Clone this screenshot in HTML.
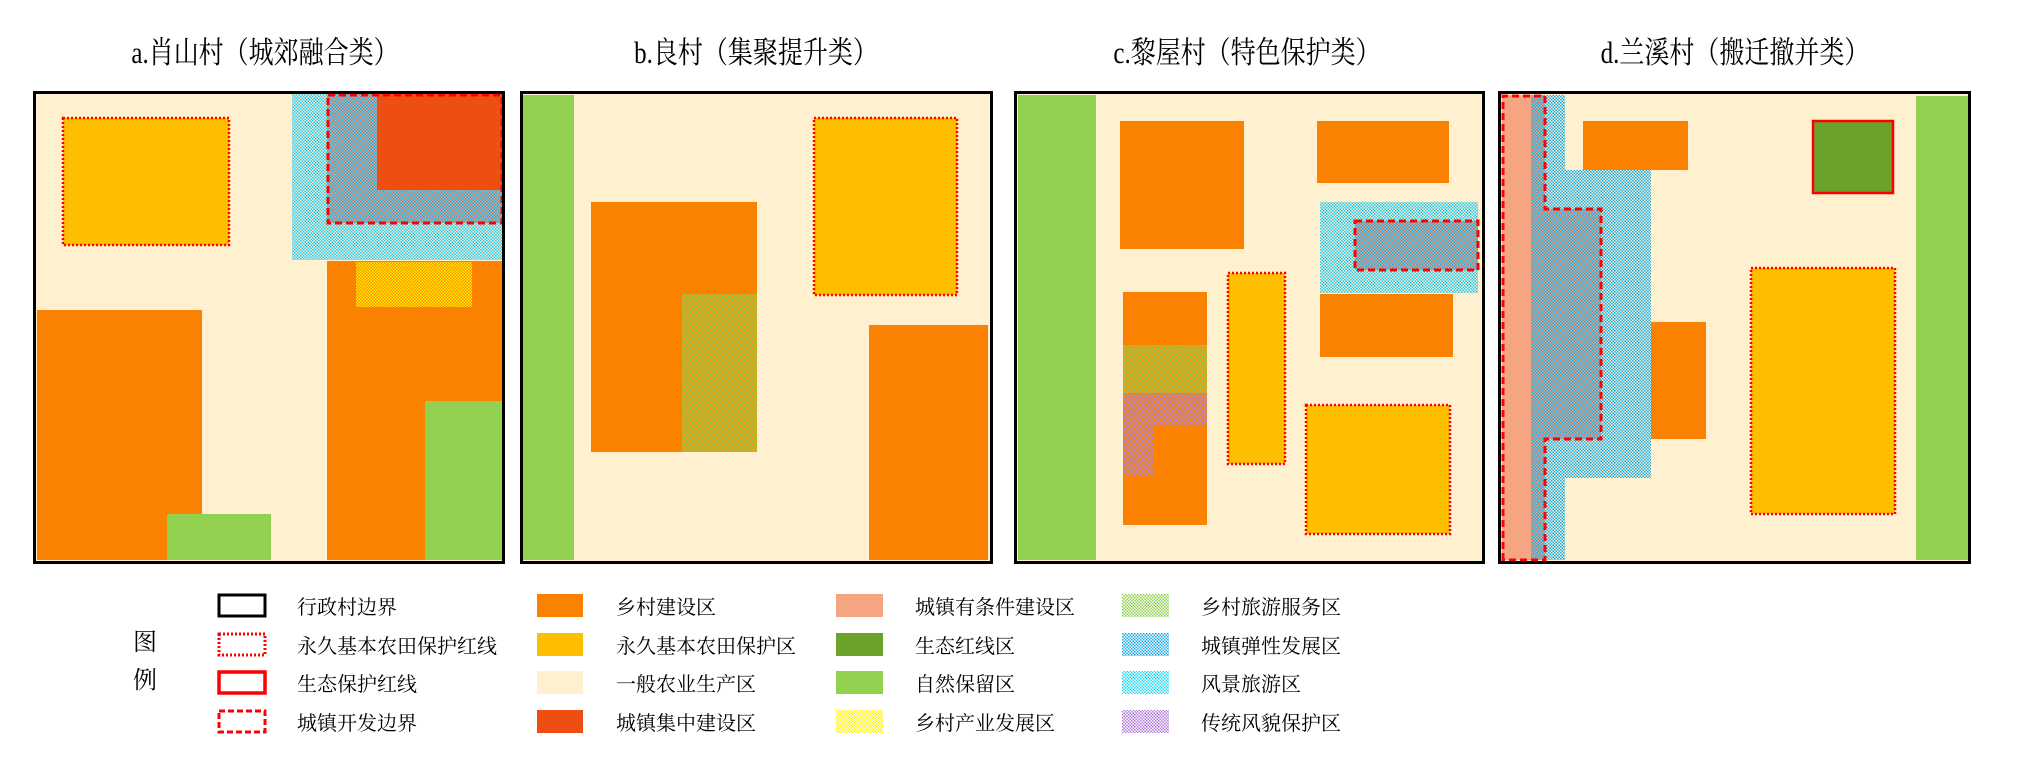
<!DOCTYPE html>
<html><head><meta charset="utf-8"><style>
html,body{margin:0;padding:0;background:#fff;width:2026px;height:778px;overflow:hidden}
svg{display:block}
text{font-family:"Liberation Serif","Noto Serif CJK SC",serif;fill:#000}
</style></head><body>
<svg width="2026" height="778" viewBox="0 0 2026 778" xmlns="http://www.w3.org/2000/svg">
<defs>
<pattern id="blue" width="3" height="3" patternUnits="userSpaceOnUse"><rect width="3" height="3" fill="#fff0cf"/><rect x="0" y="0" width="1.5" height="1.5" fill="#1aaee8"/><rect x="1.5" y="1.5" width="1.5" height="1.5" fill="#1aaee8"/></pattern>
<pattern id="cyan" width="3" height="3" patternUnits="userSpaceOnUse"><rect width="3" height="3" fill="#fff0cf"/><rect x="0" y="0" width="1.5" height="1.5" fill="#22c8ee"/><rect x="1.5" y="1.5" width="1.5" height="1.5" fill="#22c8ee"/></pattern>
<pattern id="gray" width="3" height="3" patternUnits="userSpaceOnUse"><rect width="3" height="3" fill="#f4a07c"/><rect x="0" y="0" width="1.5" height="1.5" fill="#1aaee8"/><rect x="1.5" y="1.5" width="1.5" height="1.5" fill="#1aaee8"/></pattern>
<pattern id="yel" width="3" height="3" patternUnits="userSpaceOnUse"><rect width="3" height="3" fill="#fb8c00"/><rect x="0" y="0" width="1.5" height="1.5" fill="#fff200"/><rect x="1.5" y="1.5" width="1.5" height="1.5" fill="#fff200"/></pattern>
<pattern id="yelL" width="3" height="3" patternUnits="userSpaceOnUse"><rect width="3" height="3" fill="#fff"/><rect x="0" y="0" width="1.5" height="1.5" fill="#fff200"/><rect x="1.5" y="1.5" width="1.5" height="1.5" fill="#fff200"/></pattern>
<pattern id="grn" width="3" height="3" patternUnits="userSpaceOnUse"><rect width="3" height="3" fill="#fb8c00"/><rect x="0" y="0" width="1.5" height="1.5" fill="#8fd050"/><rect x="1.5" y="1.5" width="1.5" height="1.5" fill="#8fd050"/></pattern>
<pattern id="grnL" width="3" height="3" patternUnits="userSpaceOnUse"><rect width="3" height="3" fill="#fff"/><rect x="0" y="0" width="1.5" height="1.5" fill="#8fd050"/><rect x="1.5" y="1.5" width="1.5" height="1.5" fill="#8fd050"/></pattern>
<pattern id="pur" width="3" height="3" patternUnits="userSpaceOnUse"><rect width="3" height="3" fill="#fb8c00"/><rect x="0" y="0" width="1.5" height="1.5" fill="#b07ad8"/><rect x="1.5" y="1.5" width="1.5" height="1.5" fill="#b07ad8"/></pattern>
<pattern id="purL" width="3" height="3" patternUnits="userSpaceOnUse"><rect width="3" height="3" fill="#fff"/><rect x="0" y="0" width="1.5" height="1.5" fill="#b07ad8"/><rect x="1.5" y="1.5" width="1.5" height="1.5" fill="#b07ad8"/></pattern>
<pattern id="blueL" width="3" height="3" patternUnits="userSpaceOnUse"><rect width="3" height="3" fill="#fff"/><rect x="0" y="0" width="1.5" height="1.5" fill="#1aaee8"/><rect x="1.5" y="1.5" width="1.5" height="1.5" fill="#1aaee8"/></pattern>
<pattern id="cyanL" width="3" height="3" patternUnits="userSpaceOnUse"><rect width="3" height="3" fill="#fff"/><rect x="0" y="0" width="1.5" height="1.5" fill="#22d8f0"/><rect x="1.5" y="1.5" width="1.5" height="1.5" fill="#22d8f0"/></pattern>
</defs>

<g font-size="25" text-anchor="middle">
<text x="265" y="63" transform="matrix(1,0,0,1.22,0,-14)">a.肖山村（城郊融合类）</text>
<text x="756" y="63" transform="matrix(1,0,0,1.22,0,-14)">b.良村（集聚提升类）</text>
<text x="1247" y="63" transform="matrix(1,0,0,1.22,0,-14)">c.黎屋村（特色保护类）</text>
<text x="1735" y="63" transform="matrix(1,0,0,1.22,0,-14)">d.兰溪村（搬迁撤并类）</text>
</g>

<!-- Panel a -->
<rect x="35" y="93" width="468" height="469" fill="#fff0cf"/>
<rect x="63" y="118" width="166" height="127" fill="#ffbf00" stroke="#ff0000" stroke-width="2.5" stroke-dasharray="2 2"/>
<rect x="292" y="94" width="210" height="166" fill="url(#cyan)"/>
<rect x="327" y="94" width="175" height="129" fill="url(#gray)"/>
<rect x="377" y="94" width="125" height="96" fill="#ed4f12"/>
<rect x="328" y="95" width="174" height="128" fill="none" stroke="#ff0000" stroke-width="3" stroke-dasharray="7 4"/>
<rect x="327" y="261" width="175" height="299" fill="#fb8200"/>
<rect x="356" y="262" width="116" height="45" fill="url(#yel)"/>
<rect x="37" y="310" width="165" height="250" fill="#fb8200"/>
<rect x="167" y="514" width="104" height="46" fill="#92d050"/>
<rect x="425" y="401" width="77" height="159" fill="#92d050"/>
<rect x="34.5" y="92.5" width="469" height="470" fill="none" stroke="#000" stroke-width="3"/>

<!-- Panel b -->
<rect x="521" y="93" width="470" height="469" fill="#fff0cf"/>
<rect x="523" y="95" width="51" height="465" fill="#92d050"/>
<rect x="591" y="202" width="166" height="250" fill="#fb8200"/>
<rect x="682" y="294" width="75" height="158" fill="url(#grn)"/>
<rect x="814" y="118" width="143" height="177" fill="#ffbf00" stroke="#ff0000" stroke-width="2.5" stroke-dasharray="2 2"/>
<rect x="869" y="325" width="119" height="235" fill="#fb8200"/>
<rect x="521.5" y="92.5" width="470" height="470" fill="none" stroke="#000" stroke-width="3"/>

<!-- Panel c -->
<rect x="1016" y="93" width="467" height="469" fill="#fff0cf"/>
<rect x="1018" y="95" width="78" height="465" fill="#92d050"/>
<rect x="1120" y="121" width="124" height="128" fill="#fb8200"/>
<rect x="1317" y="121" width="132" height="62" fill="#fb8200"/>
<rect x="1320" y="202" width="158" height="91" fill="url(#cyan)"/>
<rect x="1355" y="221" width="123" height="49" fill="url(#gray)" stroke="#ff0000" stroke-width="3" stroke-dasharray="7 4"/>
<rect x="1320" y="294" width="133" height="63" fill="#fb8200"/>
<rect x="1228" y="273" width="57" height="191" fill="#ffbf00" stroke="#ff0000" stroke-width="2.5" stroke-dasharray="2 2"/>
<rect x="1123" y="292" width="84" height="233" fill="#fb8200"/>
<rect x="1123" y="345" width="84" height="48" fill="url(#grn)"/>
<rect x="1123" y="393" width="84" height="32" fill="url(#pur)"/>
<rect x="1123" y="425" width="31" height="51" fill="url(#pur)"/>
<rect x="1306" y="405" width="144" height="129" fill="#ffbf00" stroke="#ff0000" stroke-width="2.5" stroke-dasharray="2 2"/>
<rect x="1015.5" y="92.5" width="468" height="470" fill="none" stroke="#000" stroke-width="3"/>

<!-- Panel d -->
<rect x="1499" y="93" width="470" height="469" fill="#fff0cf"/>
<rect x="1531" y="95" width="34" height="465" fill="url(#blue)"/>
<rect x="1531" y="170" width="120" height="308" fill="url(#blue)"/>
<rect x="1502" y="95" width="29" height="465" fill="#f6a582"/>
<rect x="1531" y="95" width="14" height="465" fill="url(#gray)"/>
<rect x="1531" y="209" width="70" height="230" fill="url(#gray)"/>
<path d="M1503 560 L1503 96 L1545 96 L1545 209 L1601 209 L1601 439 L1545 439 L1545 560 Z" fill="none" stroke="#ff0000" stroke-width="3" stroke-dasharray="7 4"/>
<rect x="1583" y="121" width="105" height="49" fill="#fb8200"/>
<rect x="1813" y="121" width="80" height="72" fill="#6aa22c" stroke="#ff0000" stroke-width="2.5"/>
<rect x="1651" y="322" width="55" height="117" fill="#fb8200"/>
<rect x="1751" y="268" width="144" height="246" fill="#ffbf00" stroke="#ff0000" stroke-width="2.5" stroke-dasharray="2 2"/>
<rect x="1916" y="96" width="52" height="464" fill="#92d050"/>
<rect x="1499.5" y="92.5" width="470" height="470" fill="none" stroke="#000" stroke-width="3"/>

<!-- Legend -->
<g font-size="24">
<text x="133" y="650">图</text>
<text x="133" y="688">例</text>
</g>
<rect x="219" y="595" width="46" height="21" fill="none" stroke="#000" stroke-width="3"/>
<rect x="219" y="634" width="46" height="21" fill="none" stroke="#ff0000" stroke-width="3" stroke-dasharray="2 2"/>
<rect x="219" y="672" width="46" height="21" fill="none" stroke="#ff0000" stroke-width="3.5"/>
<rect x="219" y="711" width="46" height="21" fill="none" stroke="#ff0000" stroke-width="3" stroke-dasharray="6 3"/>
<rect x="537" y="594" width="46" height="23" fill="#fb8200"/>
<rect x="537" y="633" width="46" height="23" fill="#ffbf00"/>
<rect x="537" y="671" width="46" height="23" fill="#fff0cf"/>
<rect x="537" y="710" width="46" height="23" fill="#ed4f12"/>
<rect x="836" y="594" width="47" height="23" fill="#f6a582"/>
<rect x="836" y="633" width="47" height="23" fill="#6aa22c"/>
<rect x="836" y="671" width="47" height="23" fill="#92d050"/>
<rect x="836" y="710" width="47" height="23" fill="url(#yelL)"/>
<rect x="1122" y="594" width="47" height="23" fill="url(#grnL)"/>
<rect x="1122" y="633" width="47" height="23" fill="url(#blueL)"/>
<rect x="1122" y="671" width="47" height="23" fill="url(#cyanL)"/>
<rect x="1122" y="710" width="47" height="23" fill="url(#purL)"/>
<g font-size="20">
<text x="297" y="614">行政村边界</text>
<text x="297" y="653">永久基本农田保护红线</text>
<text x="297" y="691">生态保护红线</text>
<text x="297" y="730">城镇开发边界</text>
<text x="616" y="614">乡村建设区</text>
<text x="616" y="653">永久基本农田保护区</text>
<text x="616" y="691">一般农业生产区</text>
<text x="616" y="730">城镇集中建设区</text>
<text x="915" y="614">城镇有条件建设区</text>
<text x="915" y="653">生态红线区</text>
<text x="915" y="691">自然保留区</text>
<text x="915" y="730">乡村产业发展区</text>
<text x="1201" y="614">乡村旅游服务区</text>
<text x="1201" y="653">城镇弹性发展区</text>
<text x="1201" y="691">风景旅游区</text>
<text x="1201" y="730">传统风貌保护区</text>
</g>
</svg>
</body></html>
